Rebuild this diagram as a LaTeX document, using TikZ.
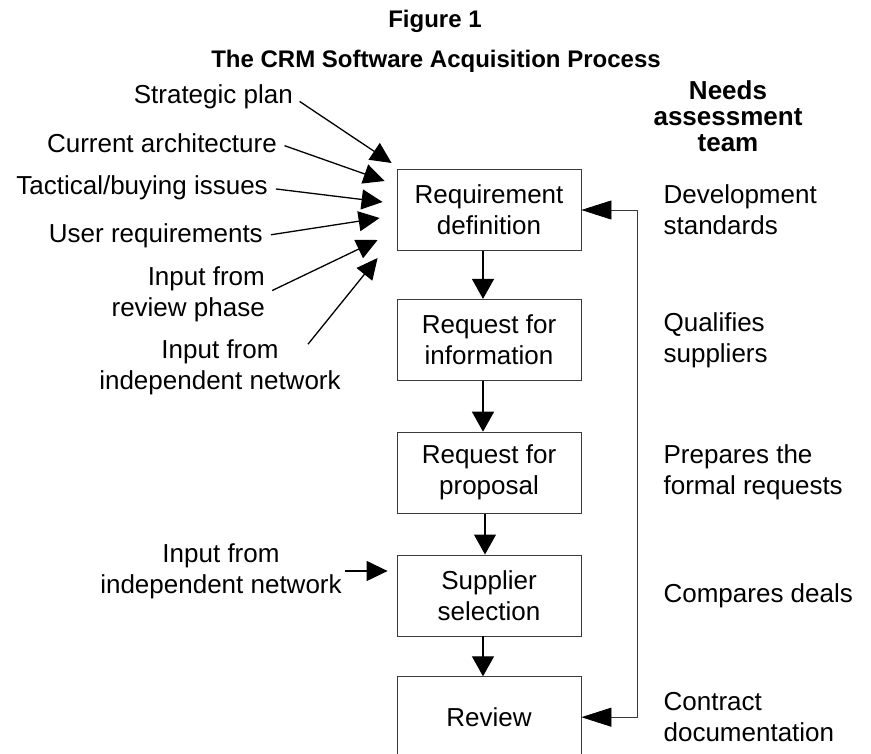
\documentclass[tikz,border=0pt]{standalone}
\usepackage{fontspec}
\setmainfont{Liberation Sans}
\usetikzlibrary{positioning}
\usetikzlibrary{arrows.meta}
\definecolor{BoxColor}{HTML}{3a3a3a}
\tikzset{
	stage/.style={draw=BoxColor,line width=.8pt,minimum width=184pt,minimum height=81pt,align=center,font=\fontsize{26}{31}\selectfont},
	txt/.style={inner sep=0pt,font=\fontsize{26}{31}\selectfont},
	hd/.style={inner sep=0pt,font=\bfseries\fontsize{24}{28}\selectfont},
	feed/.style={line width=1.3pt,shorten <=8pt,-{Triangle[length=21pt,width=20pt]}},
	flow/.style={line width=1.3pt,-{Triangle[length=20pt,width=22pt]}},
	back/.style={draw=BoxColor,line width=.8pt,{Triangle[length=30pt,width=19pt,color=black]}-{Triangle[length=30pt,width=19pt,color=black]}},
}

\begin{document}
\begin{tikzpicture}[x=1pt,y=-1pt]
				\path[use as bounding box,clip] (0,0) rectangle (871,754);
				\node[hd](fig) at (435,21) {Figure 1};
				\node[hd](title) at (436,61) {The CRM Software Acquisition Process};
				\node[stage](req) at (489,210) {Requirement\\definition};
				\node[stage,below=48pt of req](rfi) {Request for\\information};
				\node[stage,below=51pt of rfi](rfp) {Request for\\proposal};
				\node[stage,below=41pt of rfp](sel) {Supplier\\selection};
				\node[stage,below=40pt of sel](rev) {Review};
				\node[hd,font=\bfseries\fontsize{26}{26}\selectfont,align=center](team) at (728,116) {Needs\\assessment\\team};
				\node[txt,right=82pt of req,align=left](dev) {Development\\standards};
				\node[txt,right=82pt of rfi,align=left](qual) {Qualifies\\suppliers};
				\node[txt,right=82pt of rfp,align=left](prep) {Prepares the\\formal requests};
				\node[txt,right=82pt of sel](comp) {Compares deals};
				\node[txt,right=82pt of rev,align=left](cont) {Contract\\documentation};
				\node[txt,anchor=east](plan) at (293,97) {Strategic plan};
				\node[txt,anchor=east](arch) at (277,143) {Current architecture};
				\node[txt,anchor=east](tact) at (268,188) {Tactical/buying issues};
				\node[txt,anchor=east](user) at (263,236) {User requirements};
				\node[txt,anchor=east,align=right](revin) at (265,294) {Input from\\review phase};
				\node[txt,align=center](netin) at (220,367) {Input from\\independent network};
				\node[txt,align=center](netsel) at (221,571) {Input from\\independent network};
				\coordinate (t1) at ([shift={(-5,-47)}]req.west);
				\coordinate (t2) at ([shift={(-12,-29)}]req.west);
				\coordinate (t3) at ([shift={(-14,-8)}]req.west);
				\coordinate (t4) at ([shift={(-17,8)}]req.west);
				\coordinate (t5) at ([shift={(-19,30)}]req.west);
				\coordinate (t6) at ([shift={(-19,48)}]req.west);

				\draw[feed] (plan.east) to (t1);
				\draw[feed] (arch.east) to (t2);
				\draw[feed] (tact.east) to (t3);
				\draw[feed] (user.east) to (t4);
				\draw[feed] (revin.east) to (t5);
				\draw[feed,shorten <=0pt] ([xshift=88pt,yshift=-5pt]netin.north) to (t6);
				\draw[feed,shorten <=3pt,shorten >=9pt] (netsel.east) to (netsel.east -| sel.west);
				\draw[flow] ([xshift=-6pt]req.south) to ([xshift=-6pt]rfi.north);
				\draw[flow] ([xshift=-6pt]rfi.south) to ([xshift=-6pt]rfp.north);
				\draw[flow] ([xshift=-4pt]rfp.south) to ([xshift=-4pt]sel.north);
				\draw[flow] ([xshift=-6pt]sel.south) to ([xshift=-6pt]rev.north);
				\draw[back] (req.east) -- ++(56,0) |- (rev.east);
\end{tikzpicture}
\end{document}
